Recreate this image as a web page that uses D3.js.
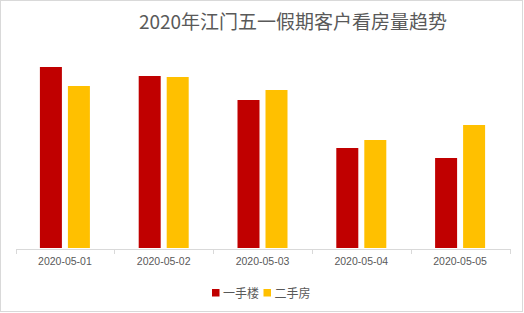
<!DOCTYPE html>
<html><head><meta charset="utf-8">
<script src="https://cdn.jsdelivr.net/npm/d3@7"></script>
<style>body{margin:0;background:#fff}svg{display:block}</style>
</head><body>
<svg id="c" width="524" height="313"></svg>
<script>
const categories = ["2020-05-01","2020-05-02","2020-05-03","2020-05-04","2020-05-05"];
const seriesNames = ["一手楼","二手房"];
const firstHand = [181,172,148,100,90];
const secondHand = [162,171,158,108,123];
const colors = ["#C00000","#FFC000"];
const title = "2020年江门五一假期客户看房量趋势";

const svg = d3.select("#c");
svg.append("rect").attr("x",0.5).attr("y",0.5).attr("width",522).attr("height",311)
  .attr("fill","#fff").attr("stroke","#d9d9d9");

const x = d3.scaleBand().domain(categories).range([15.5,509.5]);
const y = d3.scaleLinear().domain([0,181]).range([248,67]);
const series = [firstHand, secondHand];
const bw = 22, gap = 6;

series.forEach((vals,si)=>{
  svg.append("g").selectAll("rect").data(vals).join("rect")
    .attr("x",(d,i)=>x(categories[i]) + x.bandwidth()/2 - (bw*2+gap)/2 + si*(bw+gap))
    .attr("y",d=>y(d))
    .attr("width",bw)
    .attr("height",d=>y(0)-y(d))
    .attr("fill",colors[si]);
});

const ax = svg.append("g").attr("transform","translate(0,249)")
  .call(d3.axisBottom(x).tickSizeOuter(0).tickSize(0));
ax.select(".domain").attr("stroke","#d9d9d9");
ax.selectAll("text").attr("fill","#595959").attr("font-size","10.5px")
  .attr("font-family","Liberation Sans, Arial, sans-serif").attr("dy","1.2em");
// tick marks at band boundaries
const bounds = categories.map(c=>x(c)).concat([x.range()[1]]);
svg.append("g").selectAll("line").data(bounds).join("line")
  .attr("x1",d=>Math.round(d)+0.5).attr("x2",d=>Math.round(d)+0.5)
  .attr("y1",249).attr("y2",254).attr("stroke","#d9d9d9");

svg.append("text").attr("x",293).attr("y",29).attr("text-anchor","middle")
  .attr("font-size","19px").attr("fill","#595959")
  .attr("font-family","Noto Sans CJK SC, sans-serif").text(title);

const leg = svg.append("g");
const legX = [212, 263.5];
seriesNames.forEach((n,i)=>{
  leg.append("rect").attr("x",legX[i]).attr("y",289).attr("width",7.5).attr("height",7.5).attr("fill",colors[i]);
  leg.append("text").attr("x",legX[i]+11).attr("y",297.5).attr("font-size","12px")
    .attr("fill","#595959").attr("font-family","Noto Sans CJK SC, sans-serif").text(n);
});
</script>
</body></html>
